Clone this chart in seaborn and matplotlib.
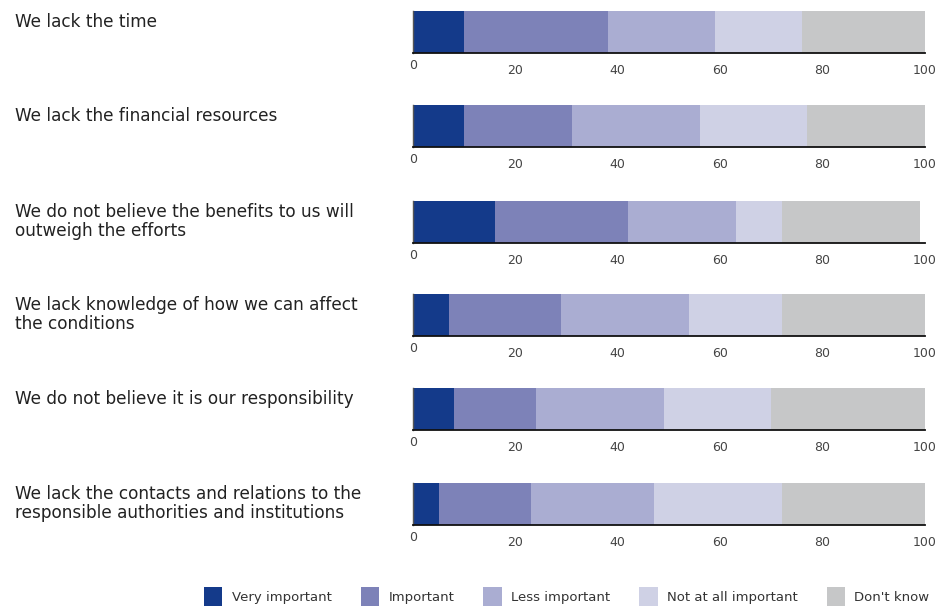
import matplotlib
matplotlib.use('Agg')
import matplotlib.pyplot as plt
import seaborn as sns
import pandas as pd
from matplotlib.patches import Patch

# Data (percent of respondents)
questions = [
    'We lack the time',
    'We lack the financial resources',
    'We do not believe the benefits to us will\noutweigh the efforts',
    'We lack knowledge of how we can affect\nthe conditions',
    'We do not believe it is our responsibility',
    'We lack the contacts and relations to the\nresponsible authorities and institutions',
]
categories = ['Very important', 'Important', 'Less important',
              'Not at all important', "Don't know"]
very_important = [10, 10, 16, 7, 8, 5]
important = [28, 21, 26, 22, 16, 18]
less_important = [21, 25, 21, 25, 25, 24]
not_important = [17, 21, 9, 18, 21, 25]
dont_know = [24, 23, 27, 28, 30, 28]
ticks = [0, 20, 40, 60, 80, 100]

colors = ['#143a8a', '#7d82b8', '#aaadd2', '#cfd1e5', '#c6c7c8']

df = pd.DataFrame({
    'question': questions,
    categories[0]: very_important,
    categories[1]: important,
    categories[2]: less_important,
    categories[3]: not_important,
    categories[4]: dont_know,
})
# cumulative sums so the segments can be drawn back to front
cum = df[categories].cumsum(axis=1)
cum['question'] = df['question']

sns.set_theme(style='white')
plt.rcParams['font.family'] = ['DejaVu Sans']

W, H = 946, 607
fig = plt.figure(figsize=(W / 100, H / 100), dpi=100)

bar_tops = [11, 105, 201, 294, 388, 483]
bar_h = 42
x0, x1 = 413, 925

for i, q in enumerate(questions):
    top = bar_tops[i]
    ax = fig.add_axes([x0 / W, 1 - (top + bar_h) / H, (x1 - x0) / W, bar_h / H])
    row = cum[cum['question'] == q]
    for cat, col in reversed(list(zip(categories, colors))):
        sns.barplot(data=row, x=cat, y='question', color=col, width=1.0,
                    ax=ax, orient='h', saturation=1, linewidth=0)
    ax.set_xlim(0, 100)
    ax.set_ylim(0.5, -0.5)
    ax.set_ylabel('')
    ax.set_xlabel('')
    ax.set_yticks([])
    ax.set_xticks(ticks)
    ax.set_xticklabels([str(t) for t in ticks])
    ax.tick_params(axis='x', length=0, pad=8, labelsize=9, labelcolor='#444444')
    ax.xaxis.get_major_ticks()[0].set_pad(4.5)
    for s in ['top', 'right']:
        ax.spines[s].set_visible(False)
    ax.spines['left'].set_color('#555555')
    ax.spines['left'].set_linewidth(1.0)
    ax.spines['bottom'].set_color('#111111')
    ax.spines['bottom'].set_linewidth(1.3)

    fig.text(15 / W, 1 - (top + 2) / H, q, ha='left', va='top',
             fontsize=12.2, color='#222222', linespacing=1.08)

handles = [Patch(facecolor=c, edgecolor='none') for c in colors]
fig.legend(handles, categories, loc='lower center', ncol=5,
           bbox_to_anchor=(0.599, -0.014), frameon=False, fontsize=9.5,
           handlelength=1.4, handleheight=1.9, handletextpad=0.7,
           columnspacing=2.2, labelcolor='#333333', borderpad=0.2)

fig.savefig('out.png', dpi=100)
